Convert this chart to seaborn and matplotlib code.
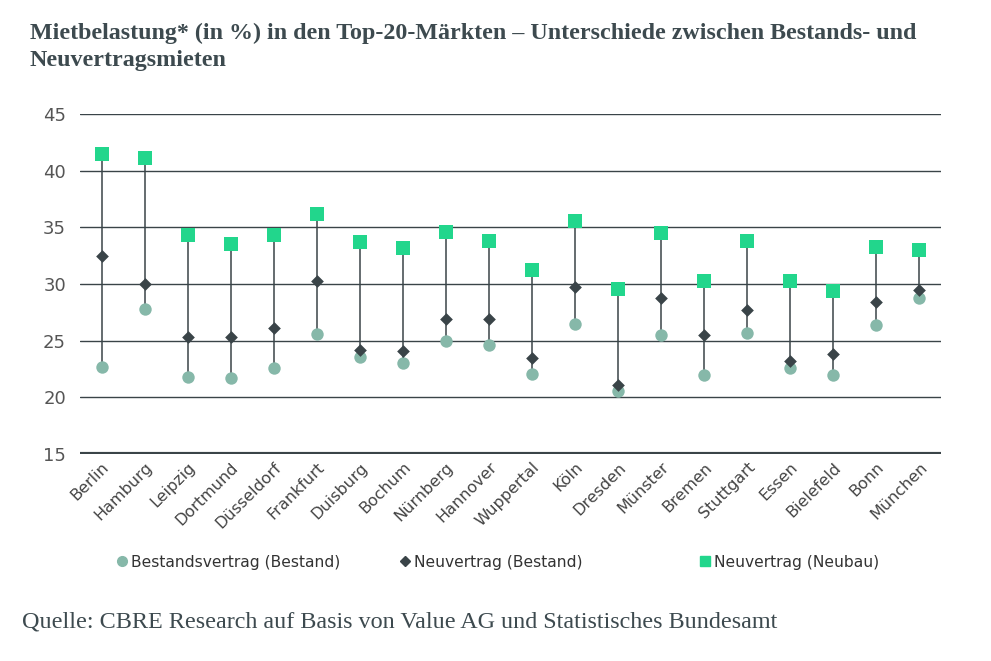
import numpy as np
import pandas as pd
import matplotlib
matplotlib.use('Agg')
import matplotlib.pyplot as plt
import seaborn as sns

# Daten
staedte = ['Berlin', 'Hamburg', 'Leipzig', 'Dortmund', 'Düsseldorf', 'Frankfurt',
           'Duisburg', 'Bochum', 'Nürnberg', 'Hannover', 'Wuppertal', 'Köln',
           'Dresden', 'Münster', 'Bremen', 'Stuttgart', 'Essen', 'Bielefeld',
           'Bonn', 'München']
bestandsvertrag = [22.7, 27.8, 21.8, 21.7, 22.55, 25.6, 23.6, 23.05, 24.95, 24.65,
                   22.1, 26.5, 20.6, 25.5, 22.0, 25.7, 22.55, 21.95, 26.35, 28.75]
neuvertrag_bestand = [32.5, 30.0, 25.35, 25.35, 26.15, 30.3, 24.2, 24.05, 26.95, 26.95,
                      23.5, 29.7, 21.1, 28.8, 25.5, 27.7, 23.2, 23.8, 28.4, 29.45]
neuvertrag_neubau = [41.5, 41.1, 34.35, 33.5, 34.3, 36.15, 33.7, 33.15, 34.6, 33.8,
                     31.25, 35.6, 29.6, 34.5, 30.25, 33.8, 30.25, 29.35, 33.3, 33.0]
y_ticks = [15, 20, 25, 30, 35, 40, 45]

serien = ['Bestandsvertrag (Bestand)', 'Neuvertrag (Bestand)', 'Neuvertrag (Neubau)']
farben = {'Bestandsvertrag (Bestand)': '#86B8A9',
          'Neuvertrag (Bestand)': '#3A4448',
          'Neuvertrag (Neubau)': '#22D68C'}
marker = {'Bestandsvertrag (Bestand)': 'o',
          'Neuvertrag (Bestand)': 'D',
          'Neuvertrag (Neubau)': 's'}
groesse = {'Bestandsvertrag (Bestand)': 80,
           'Neuvertrag (Bestand)': 42,
           'Neuvertrag (Neubau)': 105}

df = pd.DataFrame({'Stadt': staedte,
                   serien[0]: bestandsvertrag,
                   serien[1]: neuvertrag_bestand,
                   serien[2]: neuvertrag_neubau})
lang = df.melt(id_vars='Stadt', var_name='Serie', value_name='Wert')

sns.set_theme(style='white')
plt.rcParams['font.family'] = ['DejaVu Sans']
grau = '#3D4A4F'

fig = plt.figure(figsize=(9.91, 6.61), dpi=100)
ax = fig.add_axes([80 / 991, 1 - 454 / 661, 861 / 991, 340 / 661])

x = np.arange(len(staedte))
lo = np.minimum.reduce([bestandsvertrag, neuvertrag_bestand, neuvertrag_neubau])
hi = np.maximum.reduce([bestandsvertrag, neuvertrag_bestand, neuvertrag_neubau])
ax.vlines(x, lo, hi, color='#3A4448', lw=1.1, zorder=2)

for s in serien:
    teil = lang[lang['Serie'] == s]
    sns.scatterplot(data=teil, x='Stadt', y='Wert', ax=ax, color=farben[s],
                    marker=marker[s], s=groesse[s], linewidth=0, zorder=3,
                    label=s, legend=False)

ax.set_ylim(15, 45)
ax.set_xlim(-0.5, len(staedte) - 0.5)
ax.set_yticks(y_ticks)
ax.set_yticklabels([str(t) for t in y_ticks], fontsize=13, color='#555555')
for t in y_ticks[1:]:
    ax.axhline(t, color='#3A4448', lw=1.0, zorder=1)
ax.axhline(15, color='#3A4448', lw=3, zorder=1)
for sp in ax.spines.values():
    sp.set_visible(False)
ax.set_xlabel('')
ax.set_ylabel('')
ax.tick_params(axis='both', length=0, pad=10)
ax.tick_params(axis='x', pad=4)
ax.set_xticks(x)
ax.set_xticklabels(staedte, rotation=45, ha='right', rotation_mode='anchor',
                   fontsize=11.5, color='#444444')

# Legende: drei Einträge an festen Positionen
for s, xpos in zip(serien, [100, 383, 683]):
    h = plt.Line2D([], [], ls='', marker=marker[s], color=farben[s],
                   markersize=5 if s == serien[1] else 7)
    fig.legend([h], [s], loc='center left', bbox_to_anchor=(xpos / 991, 1 - 562 / 661),
               frameon=False, fontsize=11.2, handletextpad=0.1, handlelength=1.0,
               labelcolor='#333333')

fig.text(30 / 991, 1 - 47 / 661,
         'Mietbelastung* (in %) in den Top-20-Märkten – Unterschiede zwischen Bestands- und\nNeuvertragsmieten',
         fontsize=17.3, fontweight='bold', family='Liberation Serif', color=grau,
         va='center', ha='left', linespacing=1.4)
fig.text(22 / 991, 1 - 622 / 661,
         'Quelle: CBRE Research auf Basis von Value AG und Statistisches Bundesamt',
         fontsize=17.4, family='Liberation Serif', color=grau, va='center', ha='left')

fig.savefig('out.png', dpi=100)
